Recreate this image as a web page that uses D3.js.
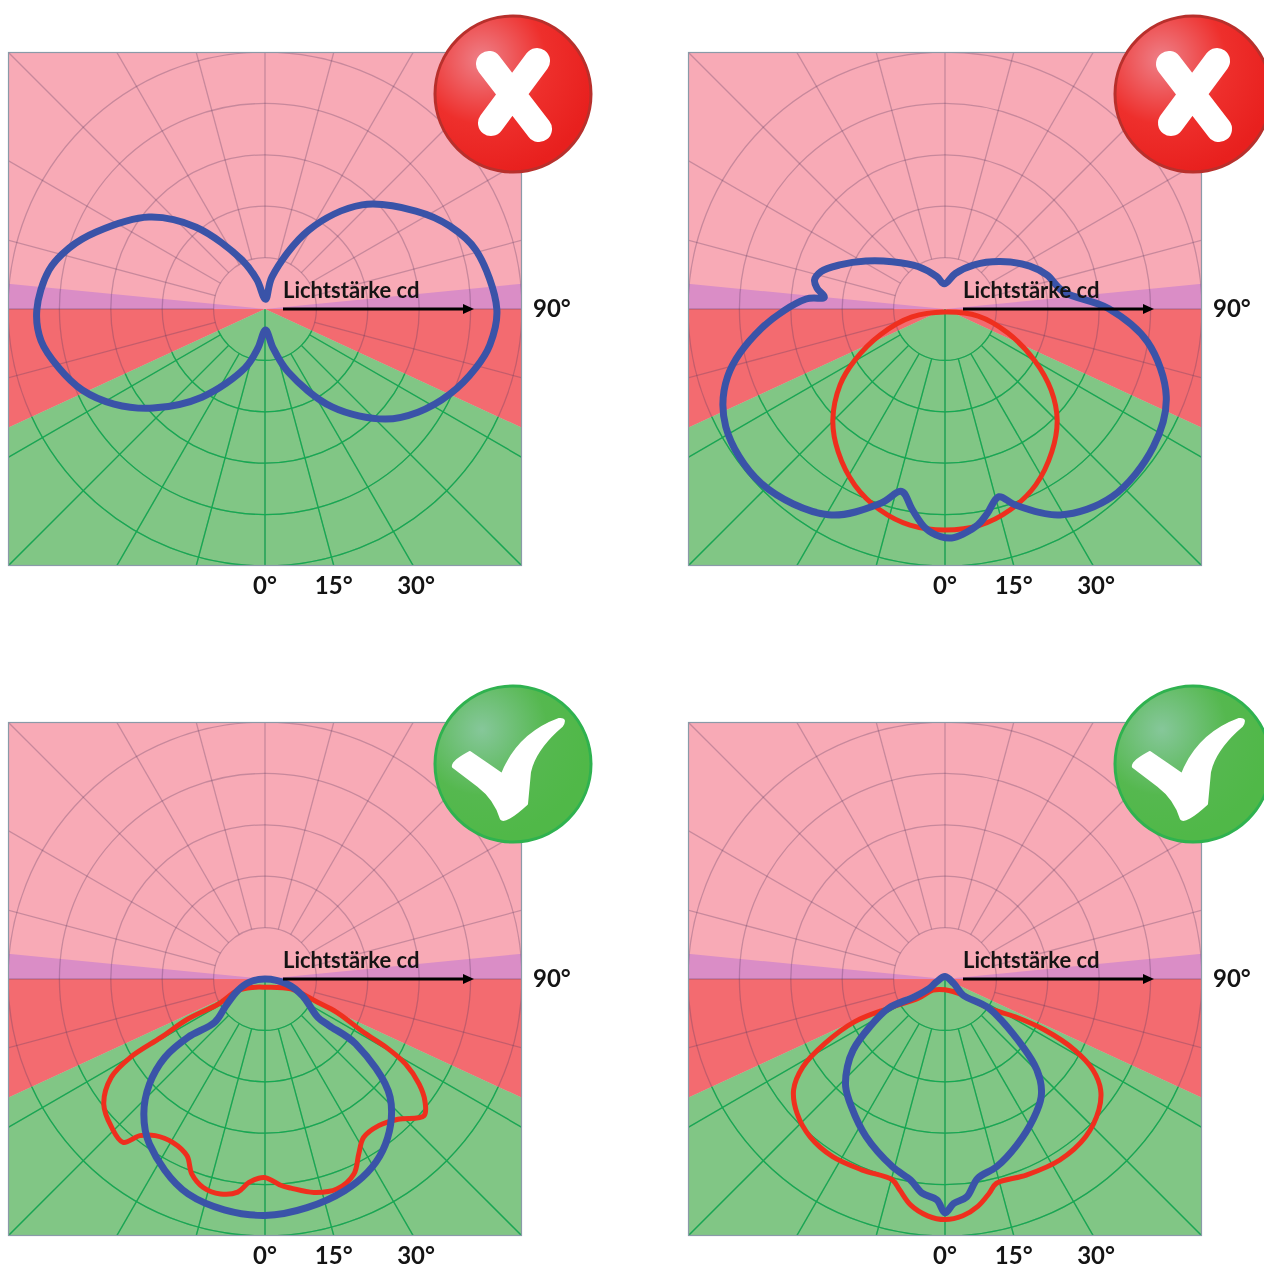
<!DOCTYPE html>
<html><head><meta charset="utf-8"><script src="https://cdn.jsdelivr.net/npm/d3@7/dist/d3.min.js"></script>
<style>html,body{margin:0;background:#fff}svg{display:block;filter:blur(.6px)}</style></head><body><script>
// Polar readings: angle in degrees from straight down (positive = right), intensity in cd (ring spacing = 100 cd)
const p1BlueAngle=[1.4,11.6,20.1,34.4,47.5,56.0,65.3,74.4,80.9,90.0,105.6,114.2,123.0,137.0,150.9,167.7,177.1,-164.6,-154.9,-139.9,-128.4,-114.5,-107.3,-100.2,-89.7,-81.9,-74.0,-66.1,-57.8,-48.5,-35.6,-18.7,-10.2];
const p1BlueValue=[41,77,130,231,317,359,396,426,443,451,426,394,350,277,176,64,19,59,105,208,288,361,399,427,444,440,417,389,347,291,211,121,77];
const p2RedAngle=[0.0,78.0,69.1,60.0,52.6,45.3,36.8,27.3,17.9,9.2,0.0,-9.2,-17.9,-27.1,-36.8,-45.3,-54.1,-60.5,-68.2,-76.4];
const p2RedValue=[6,66,131,202,260,307,347,385,411,426,430,426,411,385,347,307,252,201,136,66];
const p2BlueAngle=[2.2,8.6,11.7,16.0,19.7,29.2,41.7,56.5,68.4,80.8,90.2,98.3,108.5,116.8,130.6,146.5,163.7,-178.3,-165.8,-147.6,-131.8,-121.2,-112.7,-106.8,-102.5,-99.2,-95.5,-94.1,-84.0,-72.7,-61.8,-46.5,-29.5,-18.3,-13.4,-9.2,-5.1,-1.1];
const p2BlueValue=[445,425,406,380,405,459,489,486,463,399,318,233,209,185,142,103,72,49,65,98,138,180,222,252,260,252,236,271,359,443,484,493,460,398,365,396,428,443];
const p3RedAngle=[0.0,69.0,66.1,65.1,61.6,60.6,58.8,55.7,52.7,49.3,43.5,37.8,31.9,28.2,24.5,18.9,12.9,7.1,4.5,-0.2,-4.5,-7.3,-11.7,-16.5,-20.6,-23.8,-29.5,-35.0,-38.6,-41.0,-46.0,-52.2,-57.4,-59.8,-60.7,-62.6,-61.8,-67.0,-55.7];
const p3RedValue=[16,54,112,154,218,271,320,363,391,408,376,361,363,386,417,432,426,410,403,386,397,418,427,423,405,376,365,372,390,421,415,397,355,303,232,169,103,58,29];
const p3BlueAngle=[0.0,77.3,66.0,54.0,54.0,54.4,46.6,34.4,20.6,0.0,-19.7,-35.0,-41.9,-47.7,-52.0,-52.9,-49.3,-55.6,-67.0,-78.3];
const p3BlueValue=[0,44,80,127,154,217,335,405,440,460,444,392,353,304,247,188,129,92,58,32];
const p4RedAngle=[0.0,48.2,56.3,61.7,62.9,61.3,58.4,54.5,49.6,41.8,32.4,22.5,14.1,11.6,8.2,4.3,0.0,-4.2,-8.6,-12.1,-14.7,-23.4,-32.3,-40.5,-47.7,-53.8,-58.3,-61.8,-64.7,-62.6,-54.2,-47.3];
const p4RedValue=[21,47,103,155,218,287,338,372,393,411,417,413,410,426,447,462,468,462,445,420,404,405,409,404,389,365,325,265,194,124,64,32];
const p4BlueAngle=[180.0,63.2,48.2,56.3,47.0,43.3,39.2,32.5,23.4,15.3,9.3,5.7,2.2,0.0,-2.1,-6.1,-9.7,-15.7,-26.6,-36.3,-42.7,-48.1,-52.3,-57.6,-62.6,-59.9,-59.2,-72.0];
const p4BlueValue=[5,19,47,103,231,270,296,321,352,379,393,426,437,455,430,419,397,379,343,308,285,255,226,173,124,69,35,17];
const tickLabels=["0°","15°","30°"],tickAngles=[0,15,30],tickNudge=[0,0,3];
const ringValues=[100,200,300,400,500],spokeAngles=d3.range(-165,181,15);
const greenZoneAngle=65.2,purpleZoneAngle=95.6;
const panels=[
 {x:265,y:309,series:[[p1BlueAngle,p1BlueValue,"b"]],mark:"x"},
 {x:945,y:309,series:[[p2RedAngle,p2RedValue,"r"],[p2BlueAngle,p2BlueValue,"b"]],mark:"x"},
 {x:265,y:979,series:[[p3RedAngle,p3RedValue,"r"],[p3BlueAngle,p3BlueValue,"b"]],mark:"ok"},
 {x:945,y:979,series:[[p4RedAngle,p4RedValue,"r"],[p4BlueAngle,p4BlueValue,"b"]],mark:"ok"}];
const W=1264,H=1270,half=256.5;
const rad=d=>Math.PI-d*Math.PI/180;
const r=d3.scaleLinear().domain([0,500]).range([0,257]);
const svg=d3.select("body").append("svg").attr("width",W).attr("height",H);
const defs=svg.append("defs");
const g1=defs.append("radialGradient").attr("id","gr").attr("cx","30%").attr("cy","28%").attr("r","75%");
g1.append("stop").attr("offset","0").attr("stop-color","#ee8088");g1.append("stop").attr("offset",".55").attr("stop-color","#ee2f2c");g1.append("stop").attr("offset","1").attr("stop-color","#e8201e");
const g2=defs.append("radialGradient").attr("id","gg").attr("cx","30%").attr("cy","28%").attr("r","70%");
g2.append("stop").attr("offset","0").attr("stop-color","#86c79a");g2.append("stop").attr("offset",".6").attr("stop-color","#55b84f");g2.append("stop").attr("offset","1").attr("stop-color","#50b848");
defs.append("clipPath").attr("id","sq").append("rect").attr("x",-half).attr("y",-half).attr("width",2*half).attr("height",half*2);
const arc=d3.arc().innerRadius(0).outerRadius(500);
const wedge=(a,b)=>arc({startAngle:rad(a),endAngle:rad(b)});
const GA=greenZoneAngle,PA=purpleZoneAngle;
defs.append("clipPath").attr("id","greenclip").append("path").attr("d",wedge(GA,-GA));
const lineOf=d3.lineRadial().angle(d=>rad(d[0])).radius(d=>r(d[1])).curve(d3.curveCatmullRomClosed.alpha(0.5));
panels.forEach(p=>{
 const g=svg.append("g").attr("transform",`translate(${p.x},${p.y})`);
 const z=g.append("g").attr("clip-path","url(#sq)");
 z.append("rect").attr("x",-half).attr("y",-half).attr("width",2*half).attr("height",2*half).attr("fill","#f8aab6");
 [[PA,90,"#da8dc6"],[-90,-PA,"#da8dc6"],[90,GA,"#f36b70"],[-GA,-90,"#f36b70"],[GA,-GA,"#81c685"]].forEach(a=>z.append("path").attr("d",wedge(a[0],a[1])).attr("fill",a[2]));
 const drawGrid=(parent,col,op)=>{
  ringValues.forEach(v=>parent.append("circle").attr("r",r(v)).attr("fill","none").attr("stroke",col).attr("stroke-opacity",op).attr("stroke-width",1.3));
  spokeAngles.forEach(a=>{const t=rad(a),r0=(a===0)?0:r(100);
   parent.append("line").attr("x1",r0*Math.sin(t)).attr("y1",-r0*Math.cos(t)).attr("x2",600*Math.sin(t)).attr("y2",-600*Math.cos(t)).attr("stroke",col).attr("stroke-opacity",op).attr("stroke-width",1.3)});
 };
 drawGrid(z,"#5a3a60",0.3);
 drawGrid(z.append("g").attr("clip-path","url(#greenclip)"),"#14ab52",1);
 g.append("rect").attr("x",-half).attr("y",-half).attr("width",2*half).attr("height",2*half).attr("fill","none").attr("stroke","#8a9aa8").attr("stroke-width",1.2);
 p.series.forEach(([a,v,c])=>g.append("path").attr("d",lineOf(d3.zip(a,v))).attr("fill","none").attr("stroke",c==="r"?"#ef2f1e":"#3a53a8").attr("stroke-width",c==="r"?5:7).attr("stroke-linejoin","round"));
 const t=(txt,x,y,a,fs)=>g.append("text").text(txt).attr("x",x).attr("y",y).attr("text-anchor",a).attr("font-family","Lato").attr("font-weight",700).attr("font-size",fs).attr("fill","#141414");
 t("Lichtstärke cd",18,-11,"start",22);
 tickLabels.forEach((l,i)=>t(l,half*Math.tan(tickAngles[i]*Math.PI/180)+tickNudge[i],285,"middle",24));
 t("90°",268,8,"start",24);
 g.append("line").attr("x1",18).attr("x2",200).attr("y1",0).attr("y2",0).attr("stroke","#000").attr("stroke-width",3);
 g.append("path").attr("d","M198 -5L209 0L198 5Z").attr("fill","#000");
 const b=g.append("g").attr("transform","translate(248,-215)");
 b.append("circle").attr("r",78).attr("fill",p.mark==="x"?"url(#gr)":"url(#gg)").attr("stroke",p.mark==="x"?"#b8302c":"#2fb24f").attr("stroke-width",3);
 if(p.mark==="x"){
  b.append("path").attr("d","M-24 -30L26 35M24 -33L-22 29").attr("stroke","#fff").attr("stroke-width",26).attr("stroke-linecap","round").attr("fill","none");
 }else{
  b.append("path").attr("d","M-60 3Q-62 -2 -43 -12L-11 10Q5 -30 46 -45Q54 -46 49 -38Q22 -15 17 8L14 40Q-8 60 -12 55Q-18 35 -35 22Z").attr("fill","#fff").attr("stroke","#fff").attr("stroke-width",2).attr("stroke-linejoin","round");
 }
});
</script></body></html>
